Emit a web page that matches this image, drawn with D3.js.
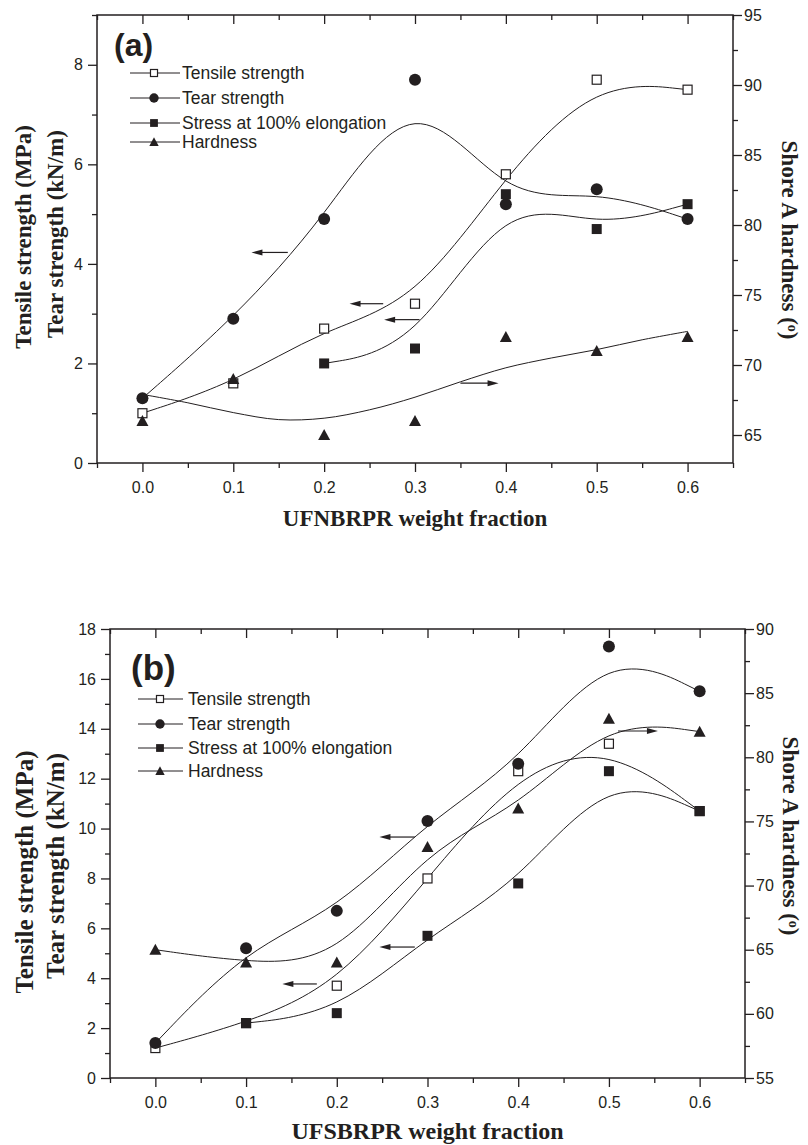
<!DOCTYPE html>
<html>
<head>
<meta charset="utf-8">
<script src="https://cdn.jsdelivr.net/npm/d3@7"></script>
<style>
  body { margin: 0; background: #fff; }
  .tick text { font-family: "Liberation Sans", Arial, sans-serif; font-size: 16px; fill: #231f20; }
  .tick line { stroke: #231f20; stroke-width: 1.3; }
  .axis-title { font-family: "Liberation Serif", "Times New Roman", serif; font-weight: bold; fill: #231f20; }
  .legend text { font-family: "Liberation Sans", Arial, sans-serif; font-size: 17.5px; fill: #231f20; }
  .panel-label { font-family: "Liberation Sans", Arial, sans-serif; font-weight: bold; fill: #231f20; }
</style>
</head>
<body>
<svg width="808" height="1145"></svg>
<script>
// weight fraction of the rubber powder (x axis)
const fractions = [0, 0.1, 0.2, 0.3, 0.4, 0.5, 0.6];
const seriesNames = ["Tensile strength", "Tear strength", "Stress at 100% elongation", "Hardness"];

// (a) UFNBRPR  - left axis MPa / kN/m, hardness on right axis
const tensileA  = [1.0, 1.6, 2.7, 3.2, 5.8, 7.7, 7.5];
const tearA     = [1.3, 2.9, 4.9, 7.7, 5.2, 5.5, 4.9];
const stressA   = [null, null, 2.0, 2.3, 5.4, 4.7, 5.2];
const hardnessA = [66, 69, 65, 66, 72, 71, 72];
// hardness trend line in (a) is a fitted curve
const hardFitXA = [0, 0.05, 0.1, 0.15, 0.2, 0.25, 0.3, 0.35, 0.4, 0.45, 0.5, 0.55, 0.6];
const hardFitA  = [67.9, 67.3, 66.6, 66.1, 66.2, 66.8, 67.7, 68.8, 69.8, 70.5, 71.1, 71.8, 72.4];

// (b) UFSBRPR
const tensileB  = [1.2, 2.2, 3.7, 8.0, 12.3, 13.4, 10.7];
const tearB     = [1.4, 5.2, 6.7, 10.3, 12.6, 17.3, 15.5];
const stressB   = [null, 2.2, 2.6, 5.7, 7.8, 12.3, 10.7];
const hardnessB = [65, 64, 64, 73, 76, 83, 82];

// arrows telling which axis a curve belongs to (from -> to, at height y)
const arrowsA = [
  {from: 0.16, to: 0.12, y: 4.23, axis: "L"},
  {from: 0.265, to: 0.228, y: 3.2, axis: "L"},
  {from: 0.305, to: 0.266, y: 2.88, axis: "L"},
  {from: 0.35, to: 0.392, y: 68.7, axis: "R"}
];
const arrowsB = [
  {from: 0.286, to: 0.247, y: 9.66, axis: "L"},
  {from: 0.286, to: 0.247, y: 5.25, axis: "L"},
  {from: 0.178, to: 0.14, y: 3.77, axis: "L"},
  {from: 0.51, to: 0.554, y: 82.05, axis: "R"}
];

// ticks
const xTicks = [0, 0.1, 0.2, 0.3, 0.4, 0.5, 0.6];
const xMinor = [-0.05, 0.05, 0.15, 0.25, 0.35, 0.45, 0.55, 0.65];
const leftTicksA = [0, 2, 4, 6, 8];
const leftMinorA = [1, 3, 5, 7, 9];
const rightTicksA = [65, 70, 75, 80, 85, 90, 95];
const rightMinorA = [67.5, 72.5, 77.5, 82.5, 87.5, 92.5];
const leftTicksB = [0, 2, 4, 6, 8, 10, 12, 14, 16, 18];
const leftMinorB = [1, 3, 5, 7, 9, 11, 13, 15, 17];
const rightTicksB = [55, 60, 65, 70, 75, 80, 85, 90];
const rightMinorB = [57.5, 62.5, 67.5, 72.5, 77.5, 82.5, 87.5];

const ink = "#231f20";
const svg = d3.select("svg");

function marker(sel, kind, s) {
  // s = scale factor (legend markers are a bit smaller)
  if (kind === "tensile") {
    sel.append("rect").attr("x", -4.5 * s).attr("y", -4.5 * s).attr("width", 9 * s).attr("height", 9 * s)
      .attr("fill", "#fff").attr("stroke", ink).attr("stroke-width", 1.2);
  } else if (kind === "tear") {
    sel.append("circle").attr("r", 6 * s).attr("fill", ink);
  } else if (kind === "stress") {
    sel.append("rect").attr("x", -5 * s).attr("y", -5 * s).attr("width", 10 * s).attr("height", 10 * s)
      .attr("fill", ink);
  } else {
    sel.append("path").attr("d", `M0,${-6 * s}L${6 * s},${5 * s}L${-6 * s},${5 * s}Z`).attr("fill", ink);
  }
}

function drawPanel(p) {
  const x = d3.scaleLinear().domain([-0.05, 0.65]).range([p.left, p.right]);
  const yL = d3.scaleLinear().domain(p.leftDomain).range([p.bottom, p.top]);
  const yR = d3.scaleLinear().domain(p.rightDomain).range([p.bottom, p.top]);
  const g = svg.append("g");

  // axes: major + minor ticks, labels only on bottom/left/right
  const ax = (gen, tr) => g.append("g").attr("transform", tr).call(gen).call(a => a.select(".domain").remove());
  ax(d3.axisBottom(x).tickValues(xTicks).tickSize(9).tickPadding(10).tickFormat(d3.format(".1f")), `translate(0,${p.bottom})`);
  ax(d3.axisBottom(x).tickValues(xMinor).tickSize(5).tickFormat(""), `translate(0,${p.bottom})`);
  ax(d3.axisBottom(x).tickValues(xTicks).tickSize(9).tickFormat(""), `translate(0,${p.top})`);
  ax(d3.axisBottom(x).tickValues(xMinor).tickSize(5).tickFormat(""), `translate(0,${p.top})`);
  ax(d3.axisLeft(yL).tickValues(p.leftTicks).tickSize(9).tickPadding(5), `translate(${p.left},0)`);
  ax(d3.axisLeft(yL).tickValues(p.leftMinor).tickSize(5).tickFormat(""), `translate(${p.left},0)`);
  ax(d3.axisRight(yR).tickValues(p.rightTicks).tickSize(9).tickPadding(2), `translate(${p.right},0)`);
  ax(d3.axisRight(yR).tickValues(p.rightMinor).tickSize(5).tickFormat(""), `translate(${p.right},0)`);

  g.append("rect").attr("x", p.left).attr("y", p.top)
    .attr("width", p.right - p.left).attr("height", p.bottom - p.top)
    .attr("fill", "none").attr("stroke", ink).attr("stroke-width", 1.5);

  // B-spline trend lines through the points
  const series = [
    {kind: "tensile", vals: p.tensile, y: yL},
    {kind: "tear", vals: p.tear, y: yL},
    {kind: "stress", vals: p.stress, y: yL},
    {kind: "hardness", vals: p.hardness, y: yR}
  ];
  const curves = g.append("g").attr("fill", "none").attr("stroke", ink).attr("stroke-width", 1);
  series.forEach(s => {
    if (s.kind === "hardness" && p.hardFit) return;
    const pts = fractions.map((f, i) => [f, s.vals[i]]).filter(d => d[1] != null);
    curves.append("path")
      .attr("d", d3.line().x(d => x(d[0])).y(d => s.y(d[1])).curve(d3.curveBasis)(pts));
  });
  if (p.hardFit) {
    const pts = p.hardFitX.map((f, i) => [f, p.hardFit[i]]);
    curves.append("path")
      .attr("d", d3.line().x(d => x(d[0])).y(d => yR(d[1])).curve(d3.curveCatmullRom)(pts));
  }

  // arrows
  p.arrows.forEach(a => {
    const yy = (a.axis === "L" ? yL : yR)(a.y);
    const x1 = x(a.from), x2 = x(a.to);
    const dir = Math.sign(x2 - x1);
    g.append("line").attr("x1", x1).attr("x2", x2 - dir * 6).attr("y1", yy).attr("y2", yy)
      .attr("stroke", ink).attr("stroke-width", 1.2);
    g.append("path").attr("d", `M${x2},${yy}L${x2 - dir * 11},${yy - 3}L${x2 - dir * 11},${yy + 3}Z`).attr("fill", ink);
  });

  // markers
  series.forEach(s => {
    fractions.forEach((f, i) => {
      if (s.vals[i] == null) return;
      const m = g.append("g").attr("transform", `translate(${x(f)},${s.y(s.vals[i])})`);
      marker(m, s.kind, 1);
    });
  });

  // panel label + legend
  g.append("text").attr("class", "panel-label").attr("x", p.label.x).attr("y", p.label.y)
    .style("font-size", p.label.size + "px").text(p.label.text);
  const lg = g.append("g").attr("class", "legend");
  ["tensile", "tear", "stress", "hardness"].forEach((k, i) => {
    const ry = p.legend.rows[i];
    lg.append("line").attr("x1", p.legend.x0).attr("x2", p.legend.x1).attr("y1", ry).attr("y2", ry)
      .attr("stroke", ink).attr("stroke-width", 1);
    marker(lg.append("g").attr("transform", `translate(${p.legend.mx},${ry})`), k, 0.78);
    lg.append("text").attr("x", p.legend.tx).attr("y", ry + 6).text(seriesNames[i]);
  });

  // axis titles
  const t = p.titles;
  g.append("text").attr("class", "axis-title").attr("text-anchor", "middle")
    .attr("x", (p.left + p.right) / 2 + t.xDx).attr("y", t.xY).style("font-size", t.xSize + "px").text(t.xText);
  g.append("text").attr("class", "axis-title").attr("text-anchor", "middle")
    .attr("transform", `translate(${t.l1x},${t.l1y}) rotate(-90)`).style("font-size", t.lSize + "px")
    .text("Tensile strength (MPa)");
  g.append("text").attr("class", "axis-title").attr("text-anchor", "middle")
    .attr("transform", `translate(${t.l2x},${t.l2y}) rotate(-90)`).style("font-size", t.lSize + "px")
    .text("Tear strength (kN/m)");
  const rt = g.append("text").attr("class", "axis-title").attr("text-anchor", "middle")
    .attr("transform", `translate(${t.rx},${t.ry}) rotate(90)`).style("font-size", t.rSize + "px");
  rt.append("tspan").text("Shore A hardness (");
  rt.append("tspan").attr("dy", "-0.45em").style("font-size", "0.6em").text("o");
  rt.append("tspan").attr("dy", "0.27em").text(")");
}

drawPanel({
  left: 97, right: 733, top: 15, bottom: 463,
  leftDomain: [0, 9], rightDomain: [63, 95],
  leftTicks: leftTicksA, leftMinor: leftMinorA, rightTicks: rightTicksA, rightMinor: rightMinorA,
  tensile: tensileA, tear: tearA, stress: stressA, hardness: hardnessA,
  hardFitX: hardFitXA, hardFit: hardFitA,
  arrows: arrowsA,
  label: {text: "(a)", x: 114, y: 56, size: 32},
  legend: {x0: 130, x1: 180, mx: 154, tx: 182, rows: [73, 98, 123, 142]},
  titles: {xText: "UFNBRPR weight fraction", xDx: 0, xY: 526, xSize: 23,
           lSize: 23, l1x: 31, l1y: 237, l2x: 63, l2y: 234, rx: 782, ry: 240, rSize: 23}
});

drawPanel({
  left: 110, right: 745, top: 629, bottom: 1078,
  leftDomain: [0, 18], rightDomain: [55, 90],
  leftTicks: leftTicksB, leftMinor: leftMinorB, rightTicks: rightTicksB, rightMinor: rightMinorB,
  tensile: tensileB, tear: tearB, stress: stressB, hardness: hardnessB,
  arrows: arrowsB,
  label: {text: "(b)", x: 131, y: 680, size: 35},
  legend: {x0: 138, x1: 183, mx: 160, tx: 188, rows: [699, 724, 748, 771]},
  titles: {xText: "UFSBRPR weight fraction", xDx: 0, xY: 1139, xSize: 24,
           lSize: 25, l1x: 33, l1y: 872, l2x: 64, l2y: 866, rx: 783, ry: 836, rSize: 23}
});
</script>
</body>
</html>
